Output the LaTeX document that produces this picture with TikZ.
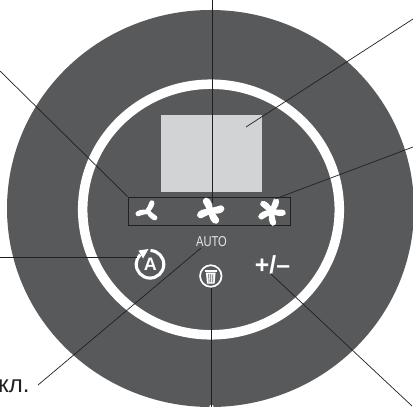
\documentclass[tikz,border=0pt]{standalone}
\usepackage{fontspec}
\setmainfont{Liberation Sans}
\newfontfamily\narrowf[FakeStretch=0.78]{Liberation Sans}
\definecolor{panel}{HTML}{58595B}
\definecolor{screen}{HTML}{D1D3D4}
\definecolor{lead}{HTML}{231F20}
\definecolor{soft}{HTML}{E6E7E8}
\newcommand{\blade}[5]{% cx cy angle len wid
  \fill[white,shift={(#1,#2)},rotate=#3]
    (0,#5*0.3) .. controls (#4*0.3,#5*0.75) and (#4*0.8,#5*1.0) .. (#4,#5*0.5)
    .. controls (#4*1.08,#5*0.15) and (#4*0.95,-#5*0.25) .. (#4*0.7,-#5*0.2)
    .. controls (#4*0.5,-#5*0.15) and (#4*0.3,-#5*0.3) .. (0,-#5*0.5) -- cycle;}
\begin{document}
\begin{tikzpicture}[x=1pt,y=-1pt,
  leader/.style={draw=lead,line width=0.7pt},
  word/.style={inner sep=0pt,outer sep=0pt}]
\useasboundingbox (0,0) rectangle (413,407);
\begin{scope}
\clip (0,0) rectangle (413,407);
\fill[panel] (210.5,208.5) ellipse [x radius=203.5,y radius=198.5];
\fill[white] (211.5,407) circle (2.2);
\draw[white,line width=9.5pt] (211,209.5) ellipse [x radius=128.3,y radius=125.3];
\fill[screen] (161,115) rectangle (262,192);
\node[draw=lead,line width=0.8pt,minimum width=162pt,minimum height=28pt,inner sep=0pt] (fanbox) at (209,211) {};
\fill[white] (147.5,211.5) circle (2.6);
\foreach \a in {72,202,-32}{\blade{147.5}{211.5}{\a}{12}{5.5}}
\fill[white] (210.5,211) circle (3.6);
\foreach \a in {124,23,-50,212}{\blade{210.5}{211}{\a}{13.5}{7.5}}
\fill[white] (271.5,211.5) circle (3.6);
\foreach \a in {75,3,-73,215,146}{\blade{271.5}{211.5}{\a}{14}{6.5}}
\node[word,text=soft,font=\narrowf\fontsize{14.3}{14.3}\selectfont] (auto) at (211.5,242) {AUTO};
% auto-mode button
\node[word,text=white,font=\bfseries\fontsize{18}{18}\selectfont] (modeA) at (150.3,264.8) {A};
\draw[white,line width=3.1pt] (150,264.3) ++(88:13.8pt) arc[start angle=88,end angle=-225,radius=13.8pt];
\fill[white] (138.5,250.5) -- (148.5,249) -- (143,258.5) -- cycle;
% bin button
\node[circle,draw=white,line width=1.7pt,minimum size=21.5pt,inner sep=0pt] (bin) at (210.8,276) {};
\fill[white] (205,270.3) rectangle (216.6,271.8);
\fill[white] (206,272.6) -- (215.6,272.6) -- (214.6,283.6) -- (207,283.6) -- cycle;
\draw[panel,line width=0.7pt] (208.7,274) -- (209,282.4) (210.8,274) -- (210.8,282.4) (212.9,274) -- (212.6,282.4);
\node[word,text=white,font=\bfseries\fontsize{24.7}{24.7}\selectfont] (plusminus) at (272.5,264.5) {+/\char"2013};
\node[word,anchor=base east,text=lead,font=\fontsize{24}{24}\selectfont] (unit) at (29.5,392) {кл.};
% leader ends
\coordinate (topL) at (212,0);
\coordinate (fanBhub) at (212,203);
\coordinate (leftL) at (0,71);
\coordinate (boxNW) at (fanbox.north west);
\coordinate (scrR) at (413,19);
\coordinate (scrP) at (246,127);
\coordinate (fanCR) at (413,147);
\coordinate (fanCP) at (275,199);
\coordinate (modeL) at (0,257);
\coordinate (modeP) at (137,257);
\coordinate (autoL) at (38,385);
\coordinate (autoP) at (201,248);
\coordinate (binP) at (211.5,288);
\coordinate (binB) at (211.5,407);
\coordinate (pmP) at (271,274);
\coordinate (pmB) at (412,406);
\draw[leader] (topL) -- (fanBhub);
\draw[leader] (leftL) -- (boxNW);
\draw[leader] (scrR) -- (scrP);
\draw[leader] (fanCR) -- (fanCP);
\draw[leader] (modeL) -- (modeP);
\draw[leader] (autoL) -- (autoP);
\draw[leader] (binP) -- (binB);
\draw[leader] (pmP) -- (pmB);
\end{scope}
\end{tikzpicture}
\end{document}
